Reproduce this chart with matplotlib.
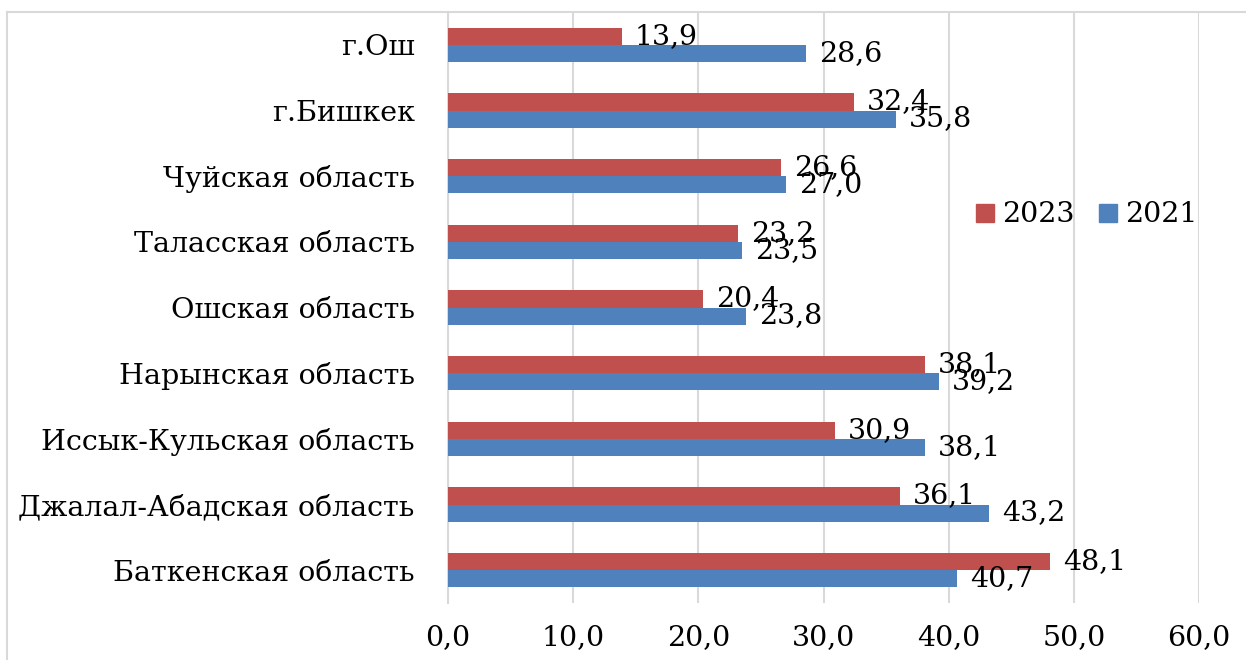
import matplotlib
matplotlib.use("Agg")
import matplotlib.pyplot as plt
from matplotlib.lines import Line2D
import numpy as np

plt.rcParams['font.family'] = ['DejaVu Serif']

regions = ["Баткенская область", "Джалал-Абадская область", "Иссык-Кульская область",
           "Нарынская область", "Ошская область", "Таласская область",
           "Чуйская область", "г.Бишкек", "г.Ош"]
vals_2023 = [48.1, 36.1, 30.9, 38.1, 20.4, 23.2, 26.6, 32.4, 13.9]
vals_2021 = [40.7, 43.2, 38.1, 39.2, 23.8, 23.5, 27.0, 35.8, 28.6]
xticks = [0, 10, 20, 30, 40, 50, 60]

red = '#C0504D'
blue = '#4F81BD'

fig = plt.figure(figsize=(12.46, 6.60), dpi=100)
ax = fig.add_axes([448 / 1246, 1 - 603 / 660, (1199 - 448) / 1246, (603 - 12) / 660])

y = np.arange(len(regions))
h = 0.26
ax.barh(y + h / 2, vals_2023, height=h, color=red, label='2023', zorder=3)
ax.barh(y - h / 2, vals_2021, height=h, color=blue, label='2021', zorder=3)

fs = 20.5
for yi, v in zip(y, vals_2023):
    ax.annotate(f"{v:.1f}".replace('.', ','), (v, yi + h / 2), xytext=(13, 0),
                textcoords='offset pixels', va='center', ha='left', fontsize=fs, zorder=4)
for yi, v in zip(y, vals_2021):
    ax.annotate(f"{v:.1f}".replace('.', ','), (v, yi - h / 2), xytext=(13, 0),
                textcoords='offset pixels', va='center', ha='left', fontsize=fs, zorder=4)

ax.set_xlim(0, 60)
ax.set_ylim(-0.5, len(regions) - 0.5)
ax.set_xticks(xticks)
ax.set_xticklabels([f"{t:.1f}".replace('.', ',') for t in xticks], fontsize=fs)
ax.set_yticks(y)
ax.set_yticklabels(regions, fontsize=fs)
ax.tick_params(axis='x', length=0, pad=15)
ax.tick_params(axis='y', length=0, pad=24)
ax.grid(axis='x', color='#D9D9D9', linewidth=1.5, zorder=0)
for s in ['top', 'right', 'bottom']:
    ax.spines[s].set_visible(False)
ax.spines['left'].set_color('#D9D9D9')
ax.spines['left'].set_linewidth(1.5)

handles = [Line2D([], [], marker='s', linestyle='none', color=red, markersize=13),
           Line2D([], [], marker='s', linestyle='none', color=blue, markersize=13)]
ax.legend(handles, ['2023', '2021'], loc='center', bbox_to_anchor=(1084 / 1246, 1 - 215 / 660),
          bbox_transform=fig.transFigure, ncol=2, frameon=False, fontsize=fs,
          handletextpad=0.1, columnspacing=0.7, handlelength=1.0)

# outer chart frame (top and left edges visible)
fig.add_artist(Line2D([7 / 1246, 7 / 1246], [0, 1 - 12 / 660], transform=fig.transFigure,
                      color='#D9D9D9', linewidth=1.5))
fig.add_artist(Line2D([7 / 1246, 1], [1 - 12 / 660, 1 - 12 / 660], transform=fig.transFigure,
                      color='#D9D9D9', linewidth=1.5))

fig.savefig("out.png", dpi=100)
